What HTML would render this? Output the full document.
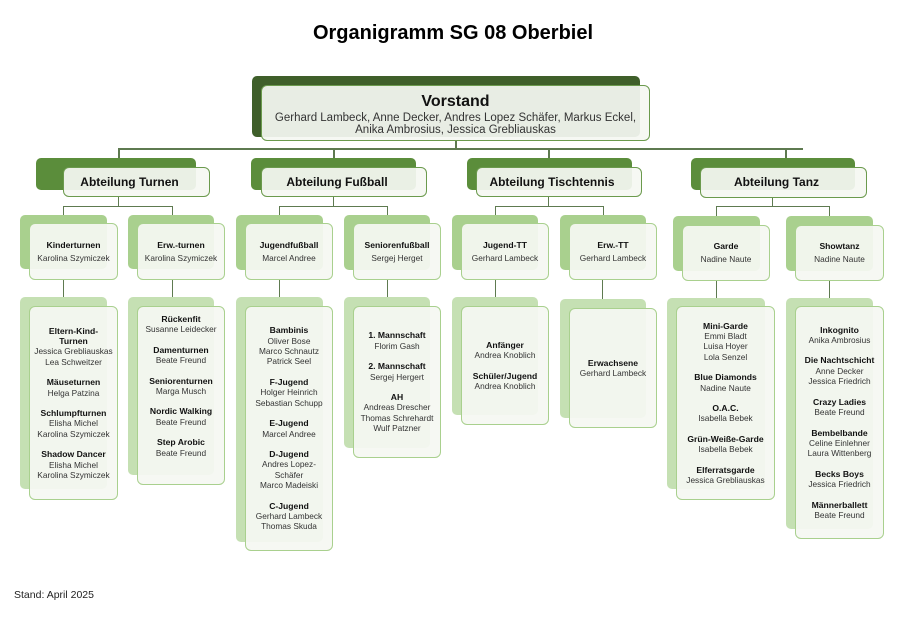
<!DOCTYPE html>
<html><head><meta charset="utf-8"><style>
body{margin:0;width:900px;height:623px;background:#fff;position:relative;overflow:hidden;font-family:"Liberation Sans",sans-serif;color:#222}
div{position:absolute;box-sizing:border-box}
.b{border-radius:5px}
.f{border:1.5px solid #a9d08e;border-radius:6px;background:rgba(245,248,242,0.93);display:flex;flex-direction:column;justify-content:center;align-items:center;text-align:center;font-size:8.3px;line-height:10.4px;color:#333}
.f b{font-size:8.6px;color:#111}
.g{height:10px}
.l{background:#5e7a50}
.d{background:#5b8d3b}
.s{background:#a9d08e}
.p{background:#c5e0b3}
.fd{border-color:#6b9a4d;font-size:12px;font-weight:bold;color:#111;padding-right:14px}
</style></head><body>
<div style="left:0;top:22px;width:906px;text-align:center;font-size:20px;font-weight:bold;color:#000">Organigramm SG 08 Oberbiel</div>

<div class="l" style="left:118px;top:148px;width:685px;height:1.5px"></div>
<div class="l" style="left:455px;top:141px;width:1.5px;height:8px"></div>
<div class="l" style="left:118px;top:148px;width:1.5px;height:12px"></div>
<div class="l" style="left:333px;top:148px;width:1.5px;height:12px"></div>
<div class="l" style="left:548px;top:148px;width:1.5px;height:12px"></div>
<div class="l" style="left:785px;top:148px;width:1.5px;height:12px"></div>
<div class="l" style="left:63px;top:206px;width:110px;height:1.3px"></div>
<div class="l" style="left:118px;top:197px;width:1.3px;height:10px"></div>
<div class="l" style="left:63px;top:206px;width:1.3px;height:10px"></div>
<div class="l" style="left:172px;top:206px;width:1.3px;height:10px"></div>
<div class="l" style="left:279px;top:206px;width:109px;height:1.3px"></div>
<div class="l" style="left:333px;top:197px;width:1.3px;height:10px"></div>
<div class="l" style="left:279px;top:206px;width:1.3px;height:10px"></div>
<div class="l" style="left:387px;top:206px;width:1.3px;height:10px"></div>
<div class="l" style="left:495px;top:206px;width:109px;height:1.3px"></div>
<div class="l" style="left:548px;top:197px;width:1.3px;height:10px"></div>
<div class="l" style="left:495px;top:206px;width:1.3px;height:10px"></div>
<div class="l" style="left:603px;top:206px;width:1.3px;height:10px"></div>
<div class="l" style="left:716px;top:206px;width:114px;height:1.3px"></div>
<div class="l" style="left:772px;top:198px;width:1.3px;height:9px"></div>
<div class="l" style="left:716px;top:206px;width:1.3px;height:10px"></div>
<div class="l" style="left:829px;top:206px;width:1.3px;height:10px"></div>
<div class="l" style="left:63px;top:280px;width:1.3px;height:18px"></div>
<div class="l" style="left:172px;top:280px;width:1.3px;height:18px"></div>
<div class="l" style="left:279px;top:280px;width:1.3px;height:18px"></div>
<div class="l" style="left:387px;top:280px;width:1.3px;height:18px"></div>
<div class="l" style="left:495px;top:280px;width:1.3px;height:18px"></div>
<div class="l" style="left:602px;top:280px;width:1.3px;height:20px"></div>
<div class="l" style="left:716px;top:281px;width:1.3px;height:18px"></div>
<div class="l" style="left:829px;top:281px;width:1.3px;height:18px"></div>

<div class="b" style="left:252px;top:76px;width:388px;height:61px;background:#3f5f2a"></div>
<div class="f" style="left:261px;top:85px;width:389px;height:56px;border-color:#6b9a4d;font-size:11.5px;line-height:12px"><b style="font-size:16px;line-height:21px">Vorstand</b>Gerhard Lambeck, Anne Decker, Andres Lopez Schäfer, Markus Eckel,<br>Anika Ambrosius, Jessica Grebliauskas</div>

<div class="b d" style="left:36px;top:158px;width:160px;height:32px"></div>
<div class="f fd" style="left:63px;top:167px;width:147px;height:30px">Abteilung Turnen</div>
<div class="b d" style="left:251px;top:158px;width:165px;height:32px"></div>
<div class="f fd" style="left:261px;top:167px;width:166px;height:30px">Abteilung Fußball</div>
<div class="b d" style="left:467px;top:158px;width:165px;height:32px"></div>
<div class="f fd" style="left:476px;top:167px;width:166px;height:30px">Abteilung Tischtennis</div>
<div class="b d" style="left:691px;top:158px;width:164px;height:32px"></div>
<div class="f fd" style="left:700px;top:167px;width:167px;height:31px">Abteilung Tanz</div>

<div class="b s" style="left:20px;top:215px;width:87px;height:54px"></div>
<div class="f" style="left:29px;top:223px;width:89px;height:57px;line-height:13px"><b>Kinderturnen</b>Karolina Szymiczek</div>
<div class="b s" style="left:128px;top:215px;width:86px;height:54px"></div>
<div class="f" style="left:137px;top:223px;width:88px;height:57px;line-height:13px"><b>Erw.-turnen</b>Karolina Szymiczek</div>
<div class="b s" style="left:236px;top:215px;width:87px;height:55px"></div>
<div class="f" style="left:245px;top:223px;width:88px;height:57px;line-height:13px"><b>Jugendfußball</b>Marcel Andree</div>
<div class="b s" style="left:344px;top:215px;width:86px;height:55px"></div>
<div class="f" style="left:353px;top:223px;width:88px;height:57px;line-height:13px"><b>Seniorenfußball</b>Sergej Herget</div>
<div class="b s" style="left:452px;top:215px;width:86px;height:55px"></div>
<div class="f" style="left:461px;top:223px;width:88px;height:57px;line-height:13px"><b>Jugend-TT</b>Gerhard Lambeck</div>
<div class="b s" style="left:560px;top:215px;width:86px;height:55px"></div>
<div class="f" style="left:569px;top:223px;width:88px;height:57px;line-height:13px"><b>Erw.-TT</b>Gerhard Lambeck</div>
<div class="b s" style="left:673px;top:216px;width:87px;height:55px"></div>
<div class="f" style="left:682px;top:225px;width:88px;height:56px;line-height:13px"><b>Garde</b>Nadine Naute</div>
<div class="b s" style="left:786px;top:216px;width:87px;height:55px"></div>
<div class="f" style="left:795px;top:225px;width:89px;height:56px;line-height:13px"><b>Showtanz</b>Nadine Naute</div>

<div class="b p" style="left:20px;top:297px;width:87px;height:192px"></div>
<div class="f" style="left:29px;top:306px;width:89px;height:194px"><b>Eltern-Kind-<br>Turnen</b>Jessica Grebliauskas<br>Lea Schweitzer<div class="g" style="position:static"></div><b>Mäuseturnen</b>Helga Patzina<div class="g" style="position:static"></div><b>Schlumpfturnen</b>Elisha Michel<br>Karolina Szymiczek<div class="g" style="position:static"></div><b>Shadow Dancer</b>Elisha Michel<br>Karolina Szymiczek</div>

<div class="b p" style="left:128px;top:297px;width:86px;height:178px"></div>
<div class="f" style="left:137px;top:306px;width:88px;height:179px;justify-content:flex-start;padding-top:7px"><b>Rückenfit</b>Susanne Leidecker<div class="g" style="position:static"></div><b>Damenturnen</b>Beate Freund<div class="g" style="position:static"></div><b>Seniorenturnen</b>Marga Musch<div class="g" style="position:static"></div><b>Nordic Walking</b>Beate Freund<div class="g" style="position:static"></div><b>Step Arobic</b>Beate Freund</div>

<div class="b p" style="left:236px;top:297px;width:87px;height:245px"></div>
<div class="f" style="left:245px;top:306px;width:88px;height:245px"><b>Bambinis</b>Oliver Bose<br>Marco Schnautz<br>Patrick Seel<div class="g" style="position:static"></div><b>F-Jugend</b>Holger Heinrich<br>Sebastian Schupp<div class="g" style="position:static"></div><b>E-Jugend</b>Marcel Andree<div class="g" style="position:static"></div><b>D-Jugend</b>Andres Lopez-<br>Schäfer<br>Marco Madeiski<div class="g" style="position:static"></div><b>C-Jugend</b>Gerhard Lambeck<br>Thomas Skuda</div>

<div class="b p" style="left:344px;top:297px;width:86px;height:151px"></div>
<div class="f" style="left:353px;top:306px;width:88px;height:152px"><b>1. Mannschaft</b>Florim Gash<div class="g" style="position:static"></div><b>2. Mannschaft</b>Sergej Hergert<div class="g" style="position:static"></div><b>AH</b>Andreas Drescher<br>Thomas Schrehardt<br>Wulf Patzner</div>

<div class="b p" style="left:452px;top:297px;width:86px;height:118px"></div>
<div class="f" style="left:461px;top:306px;width:88px;height:119px"><b>Anfänger</b>Andrea Knoblich<div class="g" style="position:static"></div><b>Schüler/Jugend</b>Andrea Knoblich</div>

<div class="b p" style="left:560px;top:299px;width:86px;height:119px"></div>
<div class="f" style="left:569px;top:308px;width:88px;height:120px"><b>Erwachsene</b>Gerhard Lambeck</div>

<div class="b p" style="left:667px;top:298px;width:98px;height:191px"></div>
<div class="f" style="left:676px;top:306px;width:99px;height:194px"><b>Mini-Garde</b>Emmi Bladt<br>Luisa Hoyer<br>Lola Senzel<div class="g" style="position:static"></div><b>Blue Diamonds</b>Nadine Naute<div class="g" style="position:static"></div><b>O.A.C.</b>Isabella Bebek<div class="g" style="position:static"></div><b>Grün-Weiße-Garde</b>Isabella Bebek<div class="g" style="position:static"></div><b>Elferratsgarde</b>Jessica Grebliauskas</div>

<div class="b p" style="left:786px;top:298px;width:87px;height:231px"></div>
<div class="f" style="left:795px;top:306px;width:89px;height:233px"><b>Inkognito</b>Anika Ambrosius<div class="g" style="position:static"></div><b>Die Nachtschicht</b>Anne Decker<br>Jessica Friedrich<div class="g" style="position:static"></div><b>Crazy Ladies</b>Beate Freund<div class="g" style="position:static"></div><b>Bembelbande</b>Celine Einlehner<br>Laura Wittenberg<div class="g" style="position:static"></div><b>Becks Boys</b>Jessica Friedrich<div class="g" style="position:static"></div><b>Männerballett</b>Beate Freund</div>

<div style="left:14px;top:589px;font-size:10.5px;color:#222">Stand: April 2025</div>
</body></html>
